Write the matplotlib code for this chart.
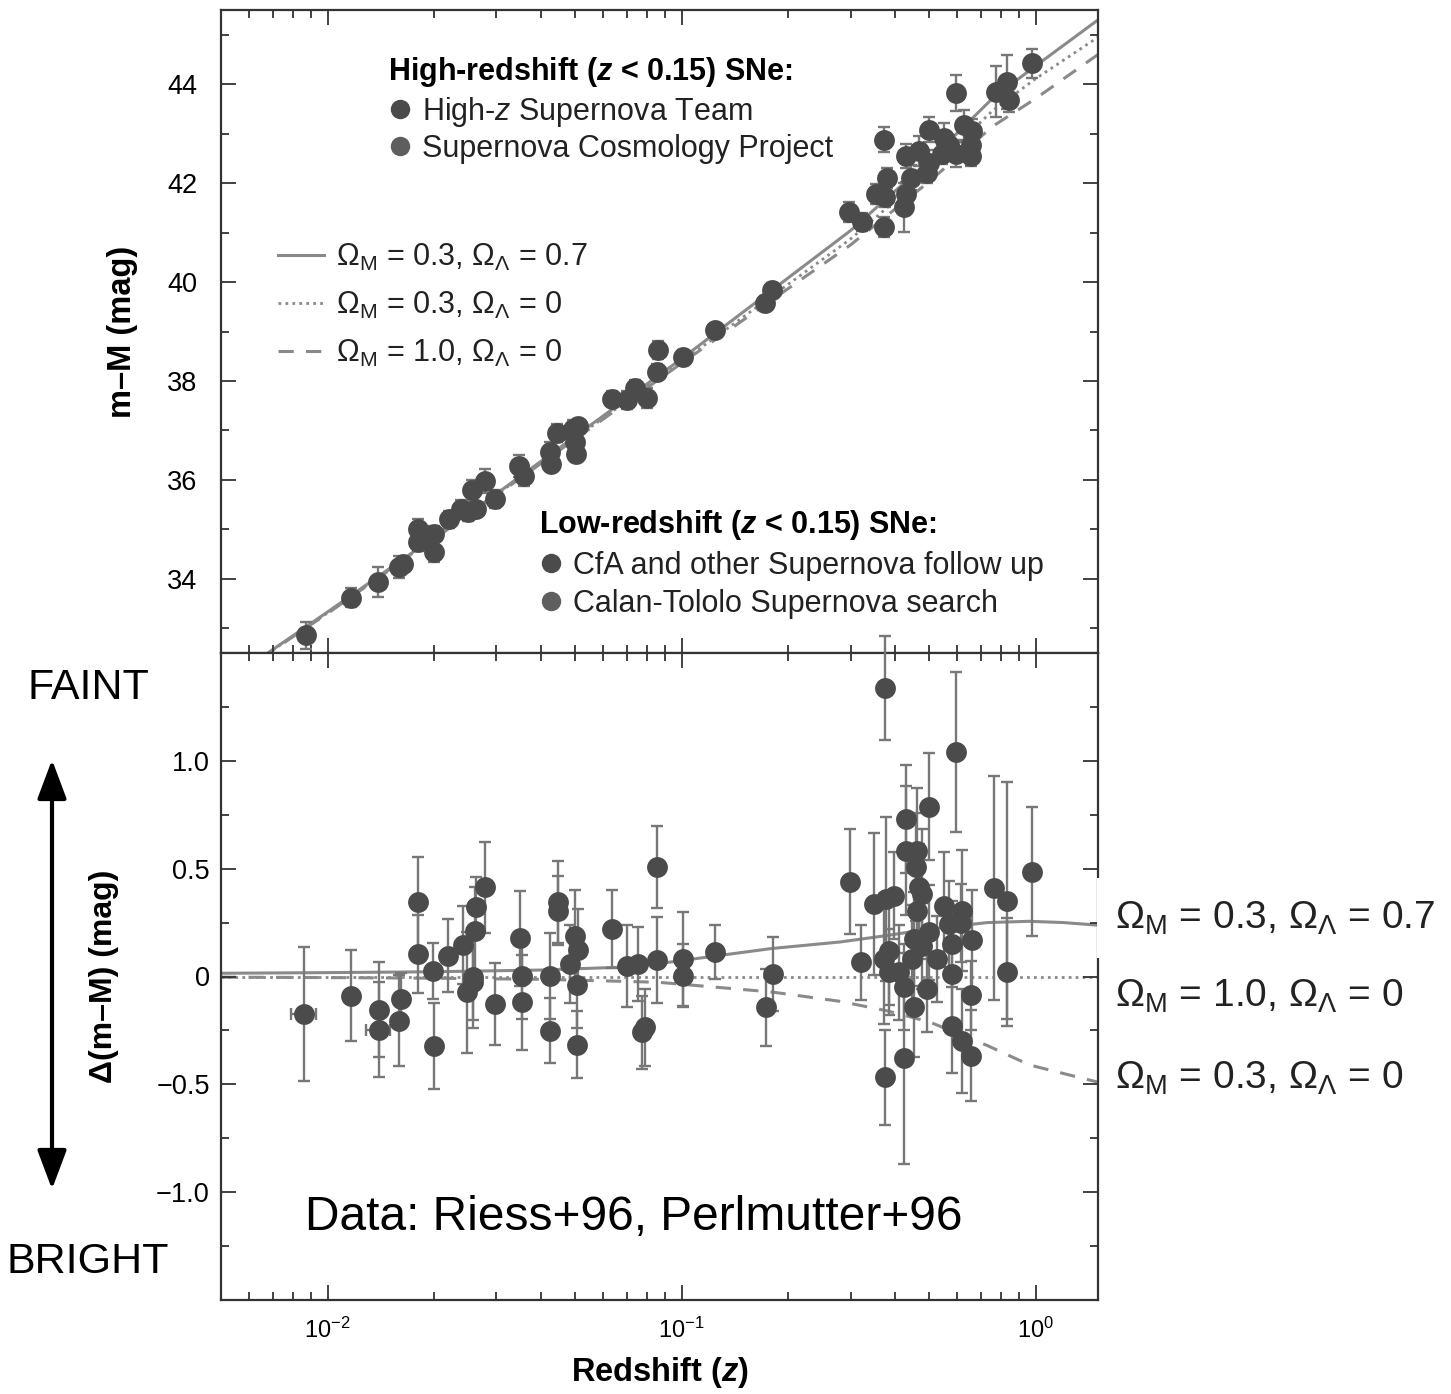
import matplotlib.pyplot as plt
from matplotlib.lines import Line2D
from matplotlib.patches import FancyArrowPatch, Rectangle
from matplotlib.ticker import LogLocator, MultipleLocator, NullFormatter, FixedLocator, FixedFormatter

plt.rcParams['font.family'] = ['Liberation Sans', 'DejaVu Sans']
plt.rcParams['mathtext.fontset'] = 'custom'
plt.rcParams['mathtext.rm'] = 'Liberation Sans'
plt.rcParams['mathtext.it'] = 'Liberation Sans:italic'
plt.rcParams['mathtext.bf'] = 'Liberation Sans:bold'
plt.rcParams['mathtext.bfit'] = 'Liberation Sans:bold:italic'

# ---- Hubble diagram (top): low-z sample
LOWZ_Z = [0.00869, 0.01163, 0.01386, 0.01588, 0.0163, 0.01797, 0.01797, 0.01994, 0.01994,
          0.02197, 0.02374, 0.025, 0.02634, 0.02566, 0.02792, 0.02979, 0.03481, 0.03596,
          0.04256, 0.04284, 0.04454, 0.04941, 0.05105, 0.05006, 0.05039, 0.06364, 0.07015,
          0.07388, 0.07987, 0.08521, 0.08576, 0.1009, 0.1241, 0.1716, 0.1797]
LOWZ_MU = [32.86, 33.62, 33.94, 34.24, 34.30, 35.01, 34.74, 34.91, 34.54,
           35.20, 35.41, 35.36, 35.41, 35.79, 35.98, 35.61, 36.28, 36.08,
           36.56, 36.32, 36.94, 37.02, 37.09, 36.76, 36.52, 37.64, 37.62,
           37.86, 37.66, 38.19, 38.63, 38.48, 39.03, 39.57, 39.83]
LOWZ_ERR = [0.27, 0.2, 0.3, 0.22, 0.15, 0.2, 0.18, 0.15, 0.2,
            0.17, 0.18, 0.2, 0.15, 0.2, 0.25, 0.18, 0.22, 0.2,
            0.2, 0.15, 0.18, 0.2, 0.15, 0.2, 0.15, 0.15, 0.18,
            0.15, 0.2, 0.15, 0.18, 0.15, 0.12, 0.15, 0.15]

# ---- Hubble diagram (top): high-z sample
HIZ_Z = [0.2979, 0.3242, 0.3549, 0.3762, 0.3811, 0.3738, 0.3738, 0.4256, 0.4311, 0.4454,
         0.4311, 0.4692, 0.5006, 0.4942, 0.5006, 0.5517, 0.6281, 0.6616, 0.6572, 0.5699,
         0.5446, 0.5964, 0.6572, 0.5964, 0.7729, 0.8302, 0.841, 0.9764]
HIZ_MU = [41.42, 41.21, 41.78, 41.71, 42.11, 42.88, 41.11, 41.51, 41.78, 42.11,
          42.55, 42.65, 42.41, 42.21, 43.08, 42.91, 43.18, 43.05, 42.78, 42.78,
          42.58, 42.58, 42.55, 43.82, 43.85, 44.05, 43.69, 44.42]
HIZ_ERR = [0.2, 0.18, 0.2, 0.2, 0.2, 0.25, 0.2, 0.5, 0.25, 0.25,
           0.25, 0.3, 0.25, 0.2, 0.25, 0.3, 0.3, 0.25, 0.2, 0.2,
           0.2, 0.25, 0.2, 0.37, 0.52, 0.55, 0.25, 0.3]

# ---- model curves (top)
CURVE_Z = [0.0065, 0.01, 0.03, 0.1, 0.3, 0.5, 0.757, 1.0, 1.5]
MU_LAMBDA = [32.41, 33.33, 35.72, 38.45, 41.04, 42.45, 43.72, 44.37, 45.30]
MU_OPEN = [32.40, 33.31, 35.70, 38.39, 40.87, 42.23, 43.47, 44.11, 44.95]
MU_EDS = [32.40, 33.30, 35.69, 38.36, 40.75, 42.03, 43.15, 43.71, 44.60]

# ---- residuals (bottom)
RES_Z = [0.00858, 0.01163, 0.01395, 0.01395, 0.01609, 0.01588, 0.01797, 0.01797, 0.01981, 0.01994,
         0.02183, 0.02405, 0.02616, 0.02634, 0.02792, 0.02583, 0.02484, 0.02583, 0.03503, 0.03549,
         0.02979, 0.03549, 0.04256, 0.04256, 0.04483, 0.04483, 0.05006, 0.05105, 0.04846, 0.05072,
         0.05072, 0.06364, 0.07015, 0.07533, 0.08521, 0.08521, 0.07883, 0.07731, 0.1009, 0.1009,
         0.1241, 0.1808, 0.1728, 0.2999, 0.3221, 0.3762, 0.3504, 0.3787, 0.3989, 0.4311,
         0.4311, 0.4631, 0.5006, 0.5964, 0.4601, 0.4692, 0.4784, 0.4631, 0.5006, 0.5517,
         0.6201, 0.5699, 0.6161, 0.6616, 0.5811, 0.7628, 0.8302, 0.8302, 0.9764, 0.5272,
         0.5811, 0.3862, 0.3738, 0.4483, 0.412, 0.3762, 0.4256, 0.4542, 0.5811, 0.6201,
         0.6572, 0.6572, 0.4942, 0.4256, 0.4784, 0.4542, 0.3862]
RES_DMU = [-0.174, -0.089, -0.154, -0.247, -0.104, -0.205, 0.344, 0.104, 0.027, -0.321,
           0.097, 0.146, 0.213, 0.321, 0.414, -0.004, -0.073, -0.027, 0.177, 0.004,
           -0.128, -0.12, 0.004, -0.251, 0.344, 0.305, 0.19, 0.123, 0.058, -0.04,
           -0.316, 0.22, 0.05, 0.058, 0.507, 0.077, -0.236, -0.259, 0.081, 0.004,
           0.115, 0.012, -0.143, 0.44, 0.066, 1.337, 0.336, 0.36, 0.375, 0.731,
           0.584, 0.584, 0.788, 1.04, 0.507, 0.414, 0.383, 0.305, 0.205, 0.329,
           0.305, 0.244, 0.247, 0.17, 0.151, 0.409, 0.352, 0.02, 0.486, 0.081,
           0.012, 0.12, 0.081, 0.081, 0.02, -0.468, -0.38, -0.143, -0.228, -0.298,
           -0.367, -0.086, -0.058, -0.05, 0.143, 0.174, 0.02]
RES_ERR = [0.31, 0.21, 0.22, 0.22, 0.12, 0.21, 0.21, 0.18, 0.13, 0.2,
           0.17, 0.18, 0.2, 0.14, 0.21, 0.2, 0.28, 0.21, 0.22, 0.2,
           0.19, 0.22, 0.2, 0.15, 0.19, 0.16, 0.21, 0.19, 0.18, 0.2,
           0.155, 0.18, 0.19, 0.17, 0.19, 0.2, 0.18, 0.17, 0.22, 0.145,
           0.125, 0.17, 0.18, 0.245, 0.175, 0.24, 0.33, 0.38, 0.2, 0.25,
           0.3, 0.29, 0.25, 0.37, 0.25, 0.2, 0.3, 0.2, 0.22, 0.25,
           0.28, 0.2, 0.18, 0.23, 0.2, 0.52, 0.55, 0.25, 0.3, 0.2,
           0.22, 0.25, 0.3, 0.25, 0.22, 0.22, 0.49, 0.23, 0.22, 0.24,
           0.21, 0.16, 0.2, 0.2, 0.2, 0.22, 0.2]
# two low-z objects with redshift error bars
XERR_Z = [0.00858, 0.01395]
XERR_DMU = [-0.174, -0.247]
XERR_DZ = [0.0007, 0.0011]

# ---- model residual curves (bottom)
RCURVE_Z = [0.005, 0.01, 0.02, 0.04, 0.067, 0.0863, 0.18, 0.28, 0.38, 0.5, 0.73, 0.96, 1.2, 1.5]
RES_LAMBDA = [0.015, 0.018, 0.022, 0.03, 0.043, 0.06, 0.13, 0.16, 0.19, 0.22, 0.25, 0.256, 0.25, 0.238]
RES_OPEN = [0, 0, 0, 0, 0, 0, 0, 0, 0, 0, 0, 0, 0, 0]
RES_EDS = [-0.003, -0.005, -0.008, -0.013, -0.022, -0.027, -0.072, -0.115, -0.159, -0.21, -0.32, -0.41, -0.45, -0.49]

Y_TICKS_BOT = [-1.0, -0.5, 0, 0.5, 1.0]
Y_LABELS_BOT = ['\u22121.0', '\u22120.5', '0', '0.5', '1.0']

MARK = '#4b4b4b'
MARK2 = '#5e5e5e'
EBAR = '#777777'
CURVE = '#8a8a8a'
SPINE = '#333333'

W, H = 1451, 1394
fig = plt.figure(figsize=(W / 100, H / 100), dpi=100)
ax_top = fig.add_axes([221 / W, 1 - 653 / H, 877 / W, 643 / H])
ax_bot = fig.add_axes([221 / W, 1 - 1300 / H, 877 / W, 647 / H])

eb_kw = dict(fmt='o', ms=15, mec='none', ecolor=EBAR, elinewidth=1.7, capsize=4.5, capthick=1.7)

ax_top.plot(CURVE_Z, MU_LAMBDA, color=CURVE, lw=2.2, ls='-', zorder=1)
ax_top.plot(CURVE_Z, MU_OPEN, color=CURVE, lw=2.0, ls=(0, (1, 1.5)), zorder=1)
ax_top.plot(CURVE_Z, MU_EDS, color=CURVE, lw=2.2, ls=(0, (5, 4)), zorder=1)
ax_top.errorbar(LOWZ_Z, LOWZ_MU, yerr=LOWZ_ERR, color=MARK, zorder=3, **eb_kw)
ax_top.errorbar(HIZ_Z, HIZ_MU, yerr=HIZ_ERR, color=MARK, zorder=3, **eb_kw)

ax_bot.plot(RCURVE_Z, RES_LAMBDA, color=CURVE, lw=2.2, ls='-', zorder=1)
ax_bot.plot(RCURVE_Z, RES_OPEN, color=CURVE, lw=2.0, ls=(0, (1, 1.5)), zorder=1)
ax_bot.plot(RCURVE_Z, RES_EDS, color=CURVE, lw=2.2, ls=(0, (5, 4)), zorder=1)
ax_bot.errorbar(RES_Z, RES_DMU, yerr=RES_ERR, color=MARK, zorder=3, clip_on=False, **eb_kw)
ax_bot.errorbar(XERR_Z, XERR_DMU, xerr=XERR_DZ, fmt='none', ecolor=EBAR, elinewidth=1.7,
                capsize=4.5, capthick=1.7, zorder=2)

for ax in (ax_top, ax_bot):
    ax.set_xscale('log')
    ax.set_xlim(0.005, 1.5)
    ax.xaxis.set_major_locator(LogLocator(base=10, numticks=10))
    ax.xaxis.set_minor_locator(LogLocator(base=10, subs=range(2, 10), numticks=20))
    ax.xaxis.set_minor_formatter(NullFormatter())
    ax.tick_params(which='both', direction='in', top=True, right=True, color=SPINE, width=1.3)
    ax.tick_params(which='major', length=11)
    ax.tick_params(which='minor', length=5.5)
    for s in ax.spines.values():
        s.set_color(SPINE)
        s.set_linewidth(1.6)

ax_top.set_ylim(32.5, 45.5)
ax_top.yaxis.set_major_locator(MultipleLocator(2))
ax_top.yaxis.set_minor_locator(MultipleLocator(1))
ax_top.tick_params(axis='x', labelbottom=False)
ax_top.tick_params(axis='y', labelsize=19.5, pad=17)
ax_top.set_ylabel('m\u2013M (mag)', fontsize=23.5, fontweight='bold')
ax_top.yaxis.set_label_coords((122 - 221) / 877, 0.5)
ax_top.yaxis.label.set_va('center')

ax_bot.set_ylim(-1.5, 1.5)
ax_bot.yaxis.set_major_locator(FixedLocator(Y_TICKS_BOT))
ax_bot.yaxis.set_major_formatter(FixedFormatter(Y_LABELS_BOT))
ax_bot.yaxis.set_minor_locator(MultipleLocator(0.25))
ax_bot.tick_params(axis='y', labelsize=19.5, pad=8)
ax_bot.tick_params(axis='x', labelsize=17, pad=13)
ax_bot.set_ylabel('\u0394(m\u2013M) (mag)', fontsize=23, fontweight='bold')
ax_bot.yaxis.set_label_coords((104 - 221) / 877, 0.5)
ax_bot.yaxis.label.set_va('center')
ax_bot.set_xlabel(r'Redshift ($\mathbfit{z}$)', fontsize=23.5, fontweight='bold')
ax_bot.xaxis.set_label_coords(0.5, (1300 - 1372) / 647)
ax_bot.xaxis.label.set_va('center')

# legends in the top panel
leg_font = 22
dot = dict(marker='o', ls='none', ms=14, mec='none')
leg1 = ax_top.legend(
    [Line2D([], [], color=MARK, **dot), Line2D([], [], color=MARK2, **dot)],
    [r'High-$z$ Supernova Team', 'Supernova Cosmology Project'],
    title=r'High-redshift ($\mathbfit{z}$ < 0.15) SNe:', alignment='left',
    title_fontproperties={'weight': 'bold', 'size': leg_font}, fontsize=leg_font,
    loc='upper left', bbox_to_anchor=((388 - 221) / 877, 1 - (55 - 10) / 643),
    frameon=False, borderpad=0, borderaxespad=0, handlelength=0.8, handletextpad=0.3,
    labelspacing=0.18, labelcolor='#222222')
ax_top.add_artist(leg1)

leg2 = ax_top.legend(
    [Line2D([], [], color=CURVE, lw=2.2), Line2D([], [], color=CURVE, lw=2.0, ls=(0, (1, 1.5))),
     Line2D([], [], color=CURVE, lw=2.2, ls=(0, (5, 4)))],
    [r'$\Omega_{\rm M}$ = 0.3, $\Omega_{\Lambda}$ = 0.7', r'$\Omega_{\rm M}$ = 0.3, $\Omega_{\Lambda}$ = 0',
     r'$\Omega_{\rm M}$ = 1.0, $\Omega_{\Lambda}$ = 0'],
    fontsize=leg_font, loc='upper left', bbox_to_anchor=((278 - 221) / 877, 1 - (242 - 10) / 643),
    frameon=False, borderpad=0, borderaxespad=0, handlelength=1.5, handletextpad=0.4,
    labelspacing=0.55, labelcolor='#222222')
ax_top.add_artist(leg2)

leg3 = ax_top.legend(
    [Line2D([], [], color=MARK, **dot), Line2D([], [], color=MARK2, **dot)],
    ['CfA and other Supernova follow up', 'Calan-Tololo Supernova search'],
    title=r'Low-redshift ($\mathbfit{z}$ < 0.15) SNe:', alignment='left',
    title_fontproperties={'weight': 'bold', 'size': leg_font}, fontsize=leg_font,
    loc='upper left', bbox_to_anchor=((539 - 221) / 877, 1 - (508 - 10) / 643),
    frameon=False, borderpad=0, borderaxespad=0, handlelength=0.8, handletextpad=0.3,
    labelspacing=0.28, labelcolor='#222222')

# annotations outside the axes
fig.text(88 / W, 1 - 688 / H, 'FAINT', fontsize=31, ha='center', va='center')
fig.text(88 / W, 1 - 1262 / H, 'BRIGHT', fontsize=31, ha='center', va='center')
fig.add_artist(FancyArrowPatch((52 / W, 1 - 757 / H), (52 / W, 1 - 1192 / H),
                               transform=fig.transFigure, arrowstyle='<|-|>,head_length=1.2,head_width=0.45',
                               mutation_scale=20, lw=3, color='black'))
fig.text(305 / W, 1 - 1217 / H, 'Data: Riess+96, Perlmutter+96', fontsize=34.5, ha='left', va='center')

fig.add_artist(Rectangle((1097 / W, 1 - 958 / H), (W - 1097) / W, 80 / H, transform=fig.transFigure,
                         facecolor='white', edgecolor='none', zorder=5))
right_labels = [r'$\Omega_{\rm M}$ = 0.3, $\Omega_{\Lambda}$ = 0.7',
                r'$\Omega_{\rm M}$ = 1.0, $\Omega_{\Lambda}$ = 0',
                r'$\Omega_{\rm M}$ = 0.3, $\Omega_{\Lambda}$ = 0']
for lab, ypix in zip(right_labels, [918, 996, 1078]):
    fig.text(1115 / W, 1 - ypix / H, lab, fontsize=28, ha='left', va='center', color='#222222', zorder=6)

fig.savefig('out.png', dpi=100)
